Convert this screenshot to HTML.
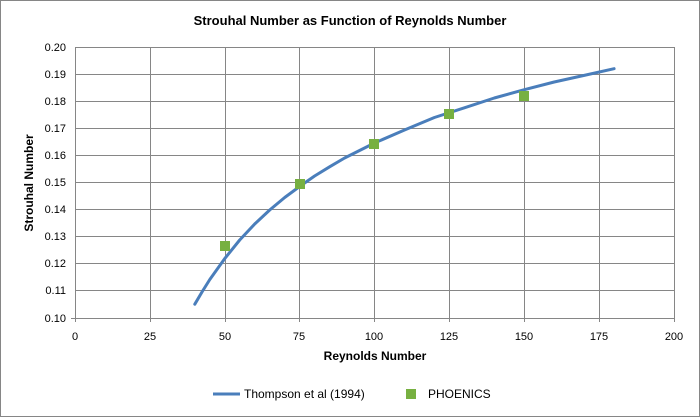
<!DOCTYPE html>
<html><head><meta charset="utf-8"><style>
body{margin:0;background:#fff}
svg{display:block;font-family:"Liberation Sans",sans-serif}
</style></head><body>
<svg width="700" height="417" viewBox="0 0 700 417">
<rect x="0.5" y="0.5" width="699" height="416" fill="#fff" stroke="#868686"/>
<text x="350" y="25" text-anchor="middle" font-size="13" font-weight="bold">Strouhal Number as Function of Reynolds Number</text>
<g stroke="#868686" stroke-width="1">
<line x1="75" y1="47.5" x2="674" y2="47.5"/>
<line x1="75" y1="74.5" x2="674" y2="74.5"/>
<line x1="75" y1="101.5" x2="674" y2="101.5"/>
<line x1="75" y1="128.5" x2="674" y2="128.5"/>
<line x1="75" y1="155.5" x2="674" y2="155.5"/>
<line x1="75" y1="182.5" x2="674" y2="182.5"/>
<line x1="75" y1="209.5" x2="674" y2="209.5"/>
<line x1="75" y1="236.5" x2="674" y2="236.5"/>
<line x1="75" y1="263.5" x2="674" y2="263.5"/>
<line x1="75" y1="290.5" x2="674" y2="290.5"/>
<line x1="75" y1="318.5" x2="674" y2="318.5"/>
<line x1="75.5" y1="47" x2="75.5" y2="322"/>
<line x1="150.5" y1="47" x2="150.5" y2="322"/>
<line x1="225.5" y1="47" x2="225.5" y2="322"/>
<line x1="299.5" y1="47" x2="299.5" y2="322"/>
<line x1="374.5" y1="47" x2="374.5" y2="322"/>
<line x1="449.5" y1="47" x2="449.5" y2="322"/>
<line x1="524.5" y1="47" x2="524.5" y2="322"/>
<line x1="599.5" y1="47" x2="599.5" y2="322"/>
<line x1="674.5" y1="47" x2="674.5" y2="322"/>
<line x1="71" y1="318.5" x2="75" y2="318.5"/>
</g>
<g font-size="11" text-anchor="end" fill="#000">
<text x="66" y="51">0.20</text><text x="66" y="78">0.19</text><text x="66" y="105">0.18</text><text x="66" y="132">0.17</text><text x="66" y="159">0.16</text><text x="66" y="186">0.15</text><text x="66" y="213">0.14</text><text x="66" y="240">0.13</text><text x="66" y="267">0.12</text><text x="66" y="294">0.11</text><text x="66" y="322">0.10</text>
</g>
<g font-size="11" text-anchor="middle">
<text x="75" y="340">0</text><text x="150" y="340">25</text><text x="225" y="340">50</text><text x="299" y="340">75</text><text x="374" y="340">100</text><text x="449" y="340">125</text><text x="524" y="340">150</text><text x="599" y="340">175</text><text x="674" y="340">200</text>
</g>
<text x="375" y="360" text-anchor="middle" font-size="12" font-weight="bold">Reynolds Number</text>
<text transform="translate(33,183) rotate(-90)" text-anchor="middle" font-size="12" font-weight="bold">Strouhal Number</text>
<polyline fill="none" stroke="#4a7ebb" stroke-width="3" stroke-linejoin="round" stroke-linecap="round" points="194.8,304.2 202.3,291.5 209.8,279.5 224.8,258.5 239.7,240 254.7,224 269.7,210 284.7,197.5 299.6,186.5 314.6,176 329.6,166.8 344.6,158 374.5,143 404.5,130 434.4,117.5 464.4,107.8 494.3,98 524.3,89.7 554.2,82 584.2,75.4 614.1,68.7"/>
<g fill="#77b041">
<rect x="220" y="241" width="10" height="10"/>
<rect x="295" y="179" width="10" height="10"/>
<rect x="369" y="139" width="10" height="10"/>
<rect x="444" y="109" width="10" height="10"/>
<rect x="519" y="91" width="10" height="10"/>
</g>
<line x1="213" y1="394" x2="240" y2="394" stroke="#4a7ebb" stroke-width="3"/>
<text x="244" y="398" font-size="12">Thompson et al (1994)</text>
<rect x="406" y="389" width="10" height="10" fill="#77b041"/>
<text x="428" y="398" font-size="12">PHOENICS</text>
</svg>
</body></html>
